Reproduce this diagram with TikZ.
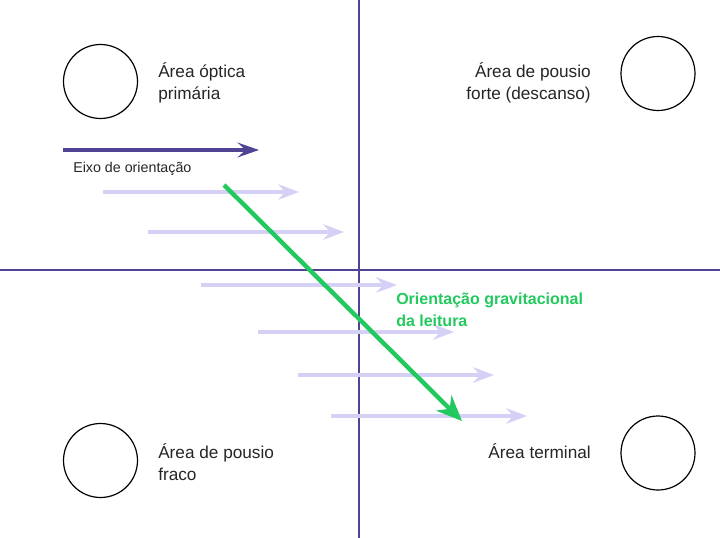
\documentclass[tikz,border=0pt]{standalone}
\usepackage{fontspec}
\setmainfont{Liberation Sans}
\usetikzlibrary{arrows.meta}
\definecolor{axis}{HTML}{4E4493}
\definecolor{lightarr}{HTML}{D5D0F5}
\definecolor{grav}{HTML}{22C95E}
\tikzset{
  area/.style={circle, draw=black, line width=0.9pt, minimum size=55.5pt, inner sep=0pt},
  lbl/.style={font=\fontsize{12.9}{16.5}\selectfont, text=black!85, inner sep=0pt},
  axisline/.style={draw=axis, line width=1.5pt},
  lightarrow/.style={draw=lightarr, line width=2.3pt, -{Stealth[length=15.5pt, width=11.5pt, inset=5pt]}},
  axisarrow/.style={draw=axis, line width=2.6pt, -{Stealth[length=16pt, width=11pt, inset=6pt]}},
  gravarrow/.style={draw=grav, line width=3.3pt, -{Stealth[length=19pt, width=16pt, inset=6pt]}},
}
\begin{document}
\begin{tikzpicture}[x=0.75pt, y=-0.75pt]
\useasboundingbox (0,0) rectangle (720,538);
\fill[white] (0,0) rectangle (720,538);
% axes
\coordinate (vt) at (359,0); \coordinate (vb) at (359,538);
\coordinate (hl) at (0,270); \coordinate (hr) at (720,270);
\draw[axisline] (vt) -- (vb);
\draw[axisline] (hl) -- (hr);
% circles
\node[area] (c1) at (100.5,81.5) {};
\node[area] (c2) at (658,73.5) {};
\node[area] (c3) at (100.5,460.5) {};
\node[area] (c4) at (658,453) {};
% labels
\node[lbl, anchor=west, align=left] (t1) at (158,83) {Área óptica\\primária};
\node[lbl, anchor=east, align=right] (t2) at (591,83) {Área de pousio\\forte (descanso)};
\node[lbl, anchor=west, align=left] (t3) at (158,462) {Área de pousio\\fraco};
\node[lbl, anchor=east, align=right] (t4) at (591,451) {Área terminal};
% orientation axis arrow
\coordinate (a0) at (63,150); \coordinate (a1) at (259,150);
\draw[axisarrow] (a0) -- (a1);
\node[font=\fontsize{10.7}{13}\selectfont, text=black!85, anchor=west, inner sep=0pt] (eixo) at (73,169) {Eixo de orientação};
% light arrows
\foreach \i/\xs/\yy in {1/103/192, 2/148/232, 3/201/285, 4/258/332, 5/298/375, 6/331/416}{
  \coordinate (l\i s) at (\xs,\yy);
  \coordinate (l\i e) at (\xs+196,\yy);
  \draw[lightarrow] (l\i s) -- (l\i e);
}
% gravitational arrow
\coordinate (g0) at (224,185); \coordinate (g1) at (462,421);
\draw[gravarrow] (g0) -- (g1);
\node[font=\bfseries\fontsize{12}{16.5}\selectfont, text=grav, anchor=west, align=left, inner sep=0pt] (gt) at (396,310) {Orientação gravitacional\\da leitura};
\end{tikzpicture}
\end{document}
